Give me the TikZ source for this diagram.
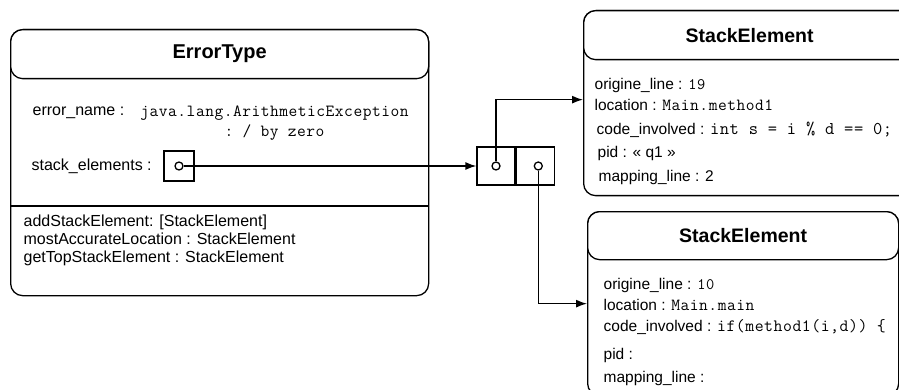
\documentclass[tikz,border=0pt]{standalone}
\usepackage{fontspec}
\setmainfont{Liberation Sans}
\setmonofont{Latin Modern Mono}[LetterSpace=3]
\usetikzlibrary{positioning,arrows.meta}
\newcommand{\srccode}[2][17]{{\ttfamily\fontsize{#1}{18}\selectfont #2}}

\begin{document}
\begin{tikzpicture}[x=1pt, y=-1pt, line width=1.3pt, >={Latex[length=11pt,width=8pt]},
                    classbody/.style={draw, rounded corners=12pt, fill=white, anchor=north west},
                    classhead/.style={draw, rounded corners=12pt, fill=white, anchor=north,
                                      font=\bfseries\fontsize{20}{24}\selectfont},
                    field/.style={anchor=west, inner sep=0pt, font=\fontsize{15.5}{18}\selectfont},
                    attr/.style={anchor=west, inner sep=0pt, font=\fontsize{16}{18}\selectfont},
                    cell/.style={draw, minimum width=38pt, minimum height=38pt, inner sep=0pt},
                    dot/.style={draw, circle, fill=white, minimum size=8pt, inner sep=0pt}]
\useasboundingbox (0,0) rectangle (899,390);
\clip (0,0) rectangle (899,390);
\node[classbody, minimum width=418pt, minimum height=266pt] (err) at (10,29) {};
\node[classhead, minimum width=418pt, minimum height=49pt] (errhead) at (err.north) {ErrorType};
\draw[line width=2pt] (err.west |- 0,206) -- (err.east |- 0,206);
\node[attr] (ename) at (32,113) {error\_name :};
\node[attr, anchor=center, align=center, font=\ttfamily\fontsize{17}{20}\selectfont] (evalue)
  at (274.5,123) {java.lang.ArithmeticException\\: / by zero};
\node[attr] (slabel) at (31,166) {stack\_elements :};
\node[cell, minimum width=30pt, minimum height=30pt] (slot) at (179,166) {};
\node[attr, align=left] (methods) at (23,240) {addStackElement: [StackElement]\\
  mostAccurateLocation : StackElement\\getTopStackElement : StackElement};
\node[cell] (cellA) at (496,166) {};
\node[cell, right=0pt of cellA] (cellB) {};
\node[classbody, minimum width=332pt, minimum height=185pt] (se1) at (583,10) {};
\node[classhead, minimum width=332pt, minimum height=49pt,
      font=\bfseries\fontsize{19.5}{24}\selectfont] (se1head) at (se1.north) {StackElement};
\node[field] (se1origin) at (594,85) {origine\_line : \srccode[16]{19}};
\node[field] (se1loc) at (594,105) {location : \srccode{Main.method1}};
\node[field] (se1code) at (596,130) {code\_involved : \srccode[18]{int s = i \% d == 0;}};
\node[field] (se1pid) at (597,153) {pid : « q1 »};
\node[field] (se1map) at (598,177) {mapping\_line : 2};
\node[classbody, minimum width=311pt, minimum height=184pt] (se2) at (587,211) {};
\node[classhead, minimum width=311pt, minimum height=48pt,
      font=\bfseries\fontsize{19.5}{24}\selectfont] (se2head) at (se2.north) {StackElement};
\node[field] (se2origin) at (603,285) {origine\_line : \srccode[16]{10}};
\node[field] (se2loc) at (603,305) {location : \srccode{Main.main}};
\node[field] (se2code) at (603,327) {code\_involved : \srccode[17.3]{if(method1(i,d)) \{}};
\node[field] (se2pid) at (603,355) {pid :};
\node[field] (se2map) at (603,378) {mapping\_line :};
\node[dot] (p0) at (slot.center) {};
\node[dot] (p1) at (cellA.center) {};
\node[dot] (p2) at ([xshift=3pt]cellB.center) {};
\draw[->] (p0) -- (cellA);
\draw[->] (p1) |- ([yshift=3.5pt]se1.west);
\draw[->] (p2) |- (se2.west);
\end{tikzpicture}
\end{document}
